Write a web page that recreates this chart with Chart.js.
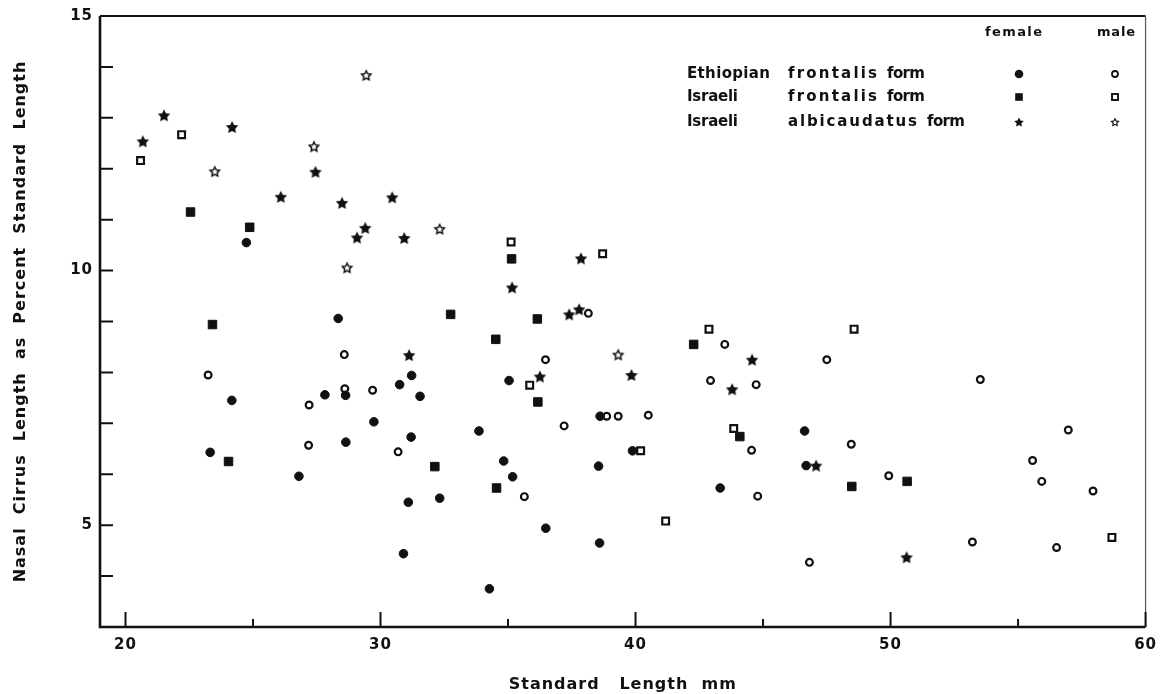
<!DOCTYPE html>
<html>
<head>
<meta charset="utf-8">
<script src="https://cdn.jsdelivr.net/npm/chart.js@4.4.1/dist/chart.umd.min.js"></script>
<style>
  html, body { margin: 0; padding: 0; background: #fff; }
  canvas { display: block; }
</style>
</head>
<body>
<canvas id="cirrusChart" width="1165" height="694"></canvas>
<script>
// [standard length mm, nasal cirrus length % SL]
// Ethiopian frontalis form
const ethFemale = [
  [24.74, 10.55], [28.34, 9.06], [24.17, 7.45], [23.32, 6.43], [26.8, 5.96], [27.82, 7.56],
  [28.63, 7.55], [28.64, 6.63], [29.74, 7.03], [31.22, 7.94], [30.75, 7.76], [35.04, 7.84],
  [31.55, 7.53], [38.61, 7.14], [33.86, 6.85], [31.2, 6.73], [39.88, 6.46], [38.55, 6.16],
  [34.83, 6.26], [35.18, 5.95], [31.09, 5.45], [32.32, 5.53], [36.48, 4.94], [38.59, 4.65],
  [30.9, 4.44], [34.27, 3.75], [46.63, 6.85], [46.69, 6.17], [43.32, 5.73]
];
const ethMale = [
  [23.24, 7.95], [27.2, 7.36], [27.18, 6.57], [28.58, 8.35], [28.6, 7.68], [29.69, 7.65],
  [30.69, 6.44], [35.64, 5.56], [36.47, 8.25], [37.2, 6.95], [38.15, 9.16], [38.87, 7.14],
  [39.32, 7.14], [40.5, 7.16], [42.94, 7.84], [43.5, 8.55], [44.55, 6.47], [44.73, 7.76],
  [44.79, 5.57], [46.82, 4.27], [47.5, 8.25], [48.46, 6.59], [49.93, 5.97], [53.21, 4.67],
  [53.52, 7.86], [55.57, 6.27], [55.93, 5.86], [56.51, 4.56], [56.97, 6.87], [57.94, 5.67]
];
// Israeli frontalis form
const isrFemale = [
  [22.55, 11.15], [23.41, 8.94], [24.04, 6.25], [24.87, 10.85], [32.13, 6.15], [32.75, 9.14],
  [34.52, 8.65], [34.55, 5.73], [35.14, 10.23], [36.15, 9.05], [36.17, 7.42], [42.28, 8.55],
  [44.09, 6.74], [48.48, 5.76], [50.65, 5.86]
];
const isrMale = [
  [20.59, 12.16], [22.2, 12.67], [35.12, 10.56], [35.85, 7.75], [38.71, 10.33], [40.2, 6.46],
  [41.18, 5.08], [42.88, 8.85], [43.85, 6.9], [48.57, 8.85], [58.68, 4.76]
];
// Israeli albicaudatus form
const albFemale = [
  [20.68, 12.54], [21.51, 13.05], [24.18, 12.82], [26.09, 11.45], [27.45, 11.94], [28.49, 11.33],
  [29.08, 10.65], [29.4, 10.84], [30.46, 11.44], [30.93, 10.64], [31.12, 8.34], [35.16, 9.67],
  [36.25, 7.92], [37.4, 9.14], [37.79, 9.24], [37.86, 10.24], [39.84, 7.95], [43.79, 7.67],
  [44.57, 8.25], [47.08, 6.17], [50.63, 4.37]
];
const albMale = [
  [23.5, 11.95], [27.39, 12.44], [28.69, 10.06], [29.44, 13.84], [32.32, 10.82], [39.32, 8.35]
];

const xTicks = [20, 30, 40, 50, 60];
const xMinorTicks = [25, 35, 45, 55];
const yTicks = [5, 10, 15];
const yMinorTicks = [4, 6, 7, 8, 9, 11, 12, 13, 14];

const legendHeader = ['female', 'male'];
const legendRows = [
  ['Ethiopian', 'frontalis', 'form'],
  ['Israeli', 'frontalis', 'form'],
  ['Israeli', 'albicaudatus', 'form']
];

const INK = '#111';
const FONT = '"DejaVu Sans", sans-serif';
Chart.defaults.font.family = FONT;
Chart.defaults.color = INK;

// 5-point star marker
function starPath(g, cx, cy, R, r) {
  g.beginPath();
  for (let i = 0; i < 10; i++) {
    const rad = i % 2 === 0 ? R : r;
    const a = -Math.PI / 2 + i * Math.PI / 5;
    const px = cx + rad * Math.cos(a), py = cy + rad * Math.sin(a);
    if (i === 0) g.moveTo(px, py); else g.lineTo(px, py);
  }
  g.closePath();
}
function makeStar(R, open) {
  const c = document.createElement('canvas');
  const s = Math.ceil(R * 2 + 4);
  c.width = s; c.height = s;
  const g = c.getContext('2d');
  const cy = s / 2 + R * 0.095;
  g.fillStyle = INK;
  starPath(g, s / 2, cy, R, R * 0.5);
  g.fill();
  if (open) {
    g.fillStyle = '#fff';
    starPath(g, s / 2, cy, R * 0.5, R * 0.24);
    g.fill();
  }
  return c;
}
const starFilled = makeStar(6.6, false);
const starOpen = makeStar(6.6, true);
const starFilledSmall = makeStar(5, false);
const starOpenSmall = makeStar(5, true);

const pts = arr => arr.map(([x, y]) => ({ x, y }));

// frame and inward tick marks
const frameTicks = {
  id: 'frameTicks',
  beforeDraw(chart) {
    chart.ctx.letterSpacing = '1px';
  },
  beforeDatasetsDraw(chart) {
    const { ctx, chartArea: a, scales: { x, y } } = chart;
    ctx.save();
    ctx.strokeStyle = INK;
    ctx.lineWidth = 2.6;
    ctx.beginPath();
    ctx.moveTo(a.left, a.top);
    ctx.lineTo(a.left, a.bottom);
    ctx.lineTo(a.right, a.bottom);
    ctx.stroke();
    ctx.lineWidth = 2.2;
    ctx.beginPath();
    ctx.moveTo(a.left, a.top);
    ctx.lineTo(a.right, a.top);
    ctx.stroke();
    ctx.lineWidth = 1.2;
    ctx.strokeStyle = '#555';
    ctx.beginPath();
    ctx.moveTo(a.right, a.top);
    ctx.lineTo(a.right, a.bottom);
    ctx.stroke();

    ctx.strokeStyle = INK;
    ctx.lineWidth = 2;
    ctx.beginPath();
    xTicks.forEach(v => {
      const px = x.getPixelForValue(v);
      ctx.moveTo(px, a.bottom); ctx.lineTo(px, a.bottom - 15);
    });
    xMinorTicks.forEach(v => {
      const px = x.getPixelForValue(v);
      ctx.moveTo(px, a.bottom); ctx.lineTo(px, a.bottom - 8);
    });
    yTicks.concat(yMinorTicks).forEach(v => {
      const py = y.getPixelForValue(v);
      ctx.moveTo(a.left, py); ctx.lineTo(a.left + 13, py);
    });
    ctx.stroke();
    ctx.restore();
  },
  afterDraw(chart) {
    const ctx = chart.ctx;
    ctx.save();
    ctx.fillStyle = INK;
    ctx.textBaseline = 'middle';
    ctx.textAlign = 'left';

    const spaced = (text, x, y, width) => {
      ctx.letterSpacing = '0px';
      const w = ctx.measureText(text).width;
      const n = text.length - 1;
      ctx.letterSpacing = (n > 0 ? (width - w) / n : 0) + 'px';
      ctx.fillText(text, x, y);
    };

    ctx.font = 'bold 13px ' + FONT;
    spaced(legendHeader[0], 985, 33, 57);
    spaced(legendHeader[1], 1097, 33, 38);

    ctx.font = 'bold 15px ' + FONT;
    const rowY = [74, 97, 122];
    const col2W = { frontalis: 89, albicaudatus: 129 };
    legendRows.forEach((row, i) => {
      const yy = rowY[i];
      spaced(row[0], 687, yy, row[0] === 'Ethiopian' ? 83 : 51);
      spaced(row[1], 788, yy, col2W[row[1]]);
      spaced(row[2], 788 + col2W[row[1]] + 10, yy, 38);
    });

    // legend markers
    const fx = 1019, mx = 1115;
    ctx.fillStyle = INK;
    ctx.strokeStyle = INK;
    ctx.beginPath(); ctx.arc(fx, rowY[0], 4.3, 0, Math.PI * 2); ctx.fill();
    ctx.lineWidth = 1.8;
    ctx.beginPath(); ctx.arc(mx, rowY[0], 3, 0, Math.PI * 2); ctx.stroke();
    ctx.fillRect(fx - 3.8, rowY[1] - 3.8, 7.6, 7.6);
    ctx.lineWidth = 1.9;
    ctx.strokeRect(mx - 3, rowY[1] - 3, 6, 6);
    ctx.drawImage(starFilledSmall, fx - starFilledSmall.width / 2, rowY[2] - starFilledSmall.height / 2);
    ctx.drawImage(starOpenSmall, mx - starOpenSmall.width / 2, rowY[2] - starOpenSmall.height / 2);
    ctx.restore();
  }
};

const tickFont = { family: FONT, size: 15, weight: 'bold' };
const titleFont = { family: FONT, size: 16, weight: 'bold' };

new Chart(document.getElementById('cirrusChart').getContext('2d'), {
  type: 'scatter',
  data: {
    datasets: [{
      label: 'Ethiopian frontalis form female',
      data: pts(ethFemale),
      pointStyle: 'circle',
      pointRadius: 4.3,
      backgroundColor: INK,
      borderColor: INK,
      borderWidth: 1
    }, {
      label: 'Ethiopian frontalis form male',
      data: pts(ethMale),
      pointStyle: 'circle',
      pointRadius: 3.4,
      backgroundColor: '#fff',
      borderColor: INK,
      borderWidth: 2.2
    }, {
      label: 'Israeli frontalis form female',
      data: pts(isrFemale),
      pointStyle: 'rect',
      pointRadius: 6,
      backgroundColor: INK,
      borderColor: INK,
      borderWidth: 1
    }, {
      label: 'Israeli frontalis form male',
      data: pts(isrMale),
      pointStyle: 'rect',
      pointRadius: 4.8,
      backgroundColor: '#fff',
      borderColor: INK,
      borderWidth: 2.2
    }, {
      label: 'Israeli albicaudatus form female',
      data: pts(albFemale),
      pointStyle: starFilled,
      pointRadius: 6
    }, {
      label: 'Israeli albicaudatus form male',
      data: pts(albMale),
      pointStyle: starOpen,
      pointRadius: 6
    }]
  },
  options: {
    responsive: false,
    animation: false,
    events: [],
    layout: { padding: { top: 16, right: 16, left: 0, bottom: 0 } },
    plugins: {
      legend: { display: false },
      tooltip: { enabled: false }
    },
    scales: {
      x: {
        type: 'linear',
        min: 19,
        max: 60,
        afterBuildTicks: s => { s.ticks = xTicks.map(v => ({ value: v })); },
        afterFit: s => { s.height = 67; },
        grid: { display: false, drawTicks: false },
        border: { display: false },
        ticks: { color: INK, font: tickFont, padding: 9, maxRotation: 0, autoSkip: false },
        title: {
          display: true,
          text: 'Standard   Length  mm',
          color: INK,
          font: titleFont,
          padding: { top: 0, bottom: 0 }
        }
      },
      y: {
        type: 'linear',
        min: 3,
        max: 15,
        afterBuildTicks: s => { s.ticks = yTicks.map(v => ({ value: v })); },
        afterFit: s => { s.width = 100; },
        grid: { display: false, drawTicks: false },
        border: { display: false },
        ticks: { color: INK, font: tickFont, padding: 7, autoSkip: false },
        title: {
          display: true,
          text: 'Nasal  Cirrus  Length  as  Percent  Standard  Length',
          color: INK,
          font: titleFont,
          padding: { top: 11, bottom: 0 }
        }
      }
    }
  },
  plugins: [frameTicks]
});
</script>
</body>
</html>
